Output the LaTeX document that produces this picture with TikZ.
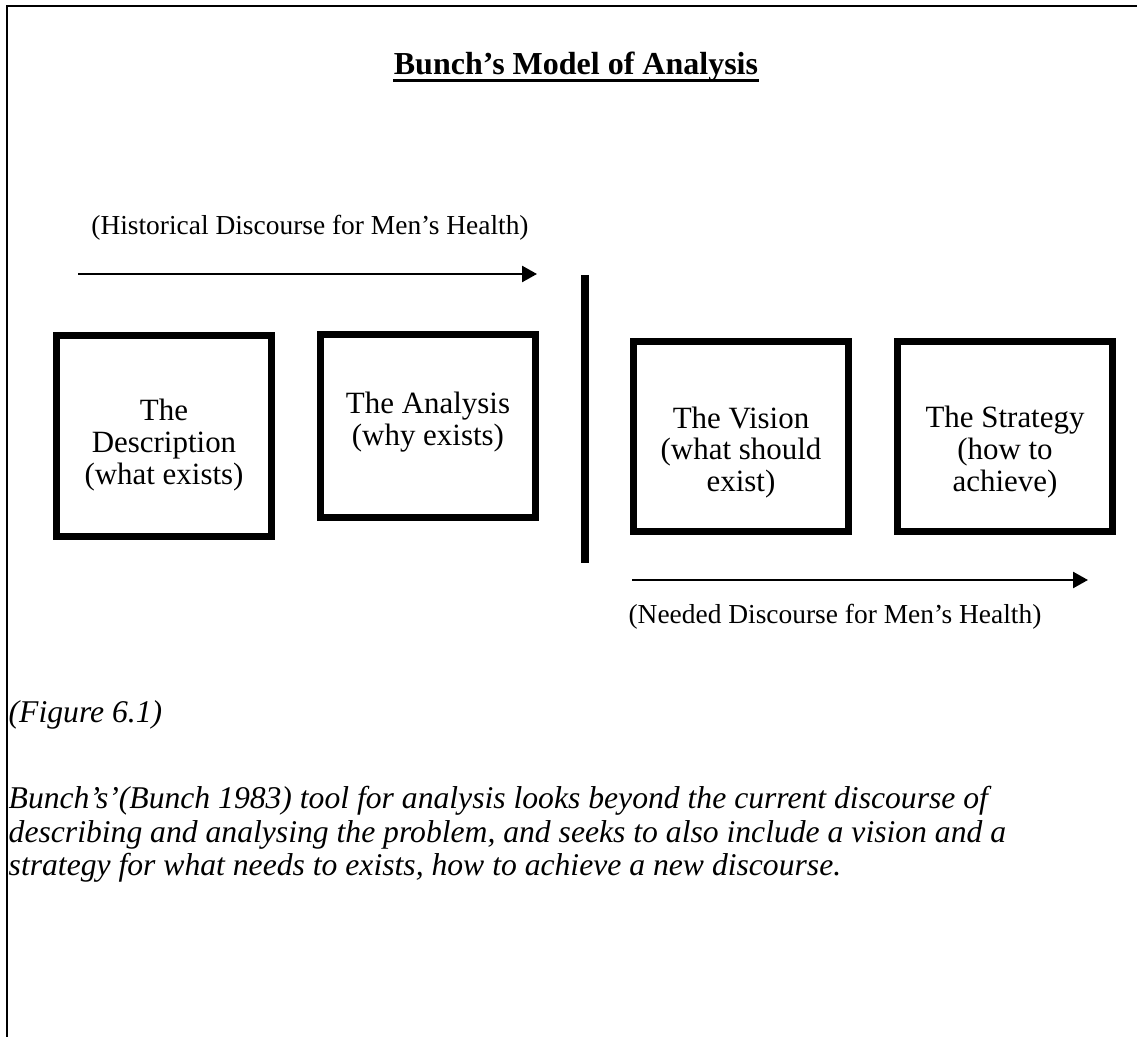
\documentclass[tikz,border=0pt]{standalone}
\usepackage{fontspec}
\setmainfont{Liberation Serif}
\usetikzlibrary{positioning,arrows.meta}

\tikzset{
  stepbox/.style={draw, line width=2pt, minimum width=2.15cm, inner sep=0pt},
  boxtext/.style={align=center, inner sep=0pt, font=\fontsize{8.8}{9}\selectfont},
  flowlabel/.style={inner sep=0pt, font=\fontsize{7.8}{9}\selectfont},
  flow/.style={-{Triangle[length=0.15cm,width=0.16cm]}, line width=0.7pt},
  captext/.style={inner sep=0pt, align=left, font=\fontsize{9}{9.4}\selectfont\itshape},
}

\begin{document}
\begin{tikzpicture}[x=0.01cm, y=-0.01cm]
            \useasboundingbox (0,0) rectangle (1137,1037);
            \draw[line width=0.6pt] (7,1037) -- (7,6) -- (1137,6);

            \node[anchor=base, inner sep=0pt, font=\fontsize{9.1}{10}\selectfont\bfseries] (title) at (576,75) {Bunch's Model of Analysis};
            \draw[line width=0.85pt] ([yshift=-1.6pt]title.base west) -- ([yshift=-1.6pt]title.base east);

            % the four stages
            \node[stepbox, minimum height=2.01cm] (desc) at (164,435.75) {};
            \node[stepbox, minimum height=1.825cm] (anal) at (428,426.25) {};
            \node[stepbox, minimum height=1.9cm] (vision) at (741,436.5) {};
            \node[stepbox, minimum height=1.9cm] (strat) at (1005,436.25) {};

            \node[boxtext, below=0.67cm of desc.north] (desctext) {The\\Description\\(what exists)};
            \node[boxtext, below=0.60cm of anal.north] (analtext) {The Analysis\\(why exists)};
            \node[boxtext, below=0.68cm of vision.north] (visiontext) {The Vision\\(what should\\exist)};
            \node[boxtext, below=0.68cm of strat.north] (strattext) {The Strategy\\(how to\\achieve)};

            % discourse arrows and divider
            \node[flowlabel] (histlabel) at (310,228) {(Historical Discourse for Men's Health)};
            \coordinate (histstart) at (78,274);
            \coordinate (histend) at (537,274);
            \draw[flow] (histstart) -- (histend);

            \coordinate (bartop) at (585,275);
            \coordinate (barbot) at (585,563);
            \draw[line width=0.08cm] (bartop) -- (barbot);

            \coordinate (needstart) at (632,580);
            \coordinate (needend) at (1088,580);
            \draw[flow] (needstart) -- (needend);
            \node[flowlabel] (needlabel) at (835,617) {(Needed Discourse for Men's Health)};

            \node[captext, anchor=base west] (figref) at (8,722) {(Figure 6.1)};
            \node[captext, anchor=north west] (caption) at (8,786) {Bunch's'(Bunch 1983) tool for analysis looks beyond the current discourse of\\describing and analysing the problem, and seeks to also include a vision and a\\strategy for what needs to exists, how to achieve a new discourse.};
\end{tikzpicture}
\end{document}
